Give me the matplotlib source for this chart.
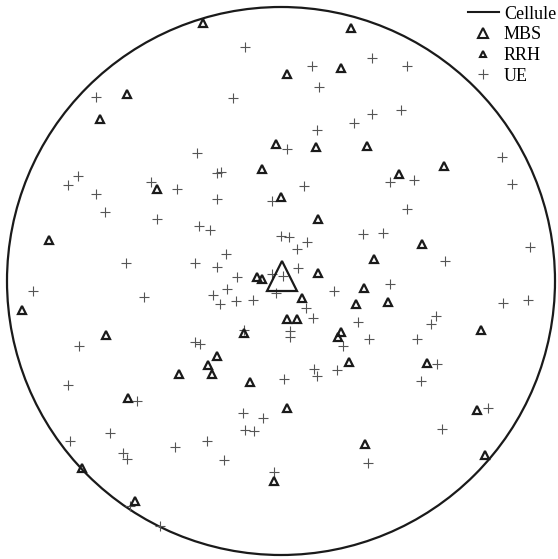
import numpy as np
import matplotlib
matplotlib.use("Agg")
import matplotlib.pyplot as plt
from matplotlib.lines import Line2D
from matplotlib.patches import Circle

plt.rcParams['font.family'] = ['Liberation Serif', 'DejaVu Serif']

# cell layout (metres, cell centre at origin)
cell_radius = 274

mbs_x = [1]
mbs_y = [5]

rrh_x = [-78, 70, 60, 6, -154, -181, -5, 35, 86, -19, 163, 118, -124, 0, 37,
         -232, 141, 93, -24, -19, 37, 83, -259, 21, 75, 107, 6, 16, 200, -175,
         -37, 60, 57, -64, -73, 68, 146, -69, -102, -31, -153, 6, 196, 84, 204,
         -199, -7, -146]
rrh_y = [258, 253, 213, 207, 187, 162, 137, 134, 135, 112, 115, 107, 92, 84, 62,
         41, 37, 22, 4, 2, 8, -7, -29, -17, -23, -21, -38, -38, -49, -54,
         -52, -51, -56, -75, -84, -81, -82, -93, -93, -101, -117, -127, -129, -163, -174,
         -187, -200, -220]

ue_x = [-36, 91, 31, 126, 38, -185, -48, 91, 120, 73, 36, 6, -84, 221, -64,
        -60, -203, -213, -130, -104, 109, 133, 231, -185, -64, -9, 23, -176, -124, 126,
        -82, -71, 0, 8, 82, 102, 26, 16, 249, -55, -155, -86, -64, 164, 17,
        -9, -44, 2, 109, -248, -54, -68, -137, -61, -45, -28, -5, 53, 222, 247,
        25, 32, 77, 155, 150, 9, 9, -37, 88, 136, -202, -86, -81, 62, 156,
        33, 36, 56, 3, 140, -213, -144, 207, -38, -18, 161, -36, -27, -171, -211,
        -74, -106, -158, -154, -57, 87, -7, -151, -121]
ue_y = [234, 223, 215, 215, 194, 184, 183, 167, 171, 158, 151, 132, 128, 124, 108,
        109, 105, 96, 99, 92, 99, 101, 97, 87, 82, 80, 95, 69, 62, 72,
        55, 51, 45, 44, 47, 48, 39, 32, 34, 27, 18, 18, 14, 20, 13,
        7, 4, 5, -3, -10, -8, -14, -16, -23, -20, -19, -12, -10, -22, -19,
        -27, -37, -41, -35, -43, -50, -56, -49, -58, -58, -65, -61, -63, -65, -83,
        -88, -95, -89, -98, -100, -104, -120, -127, -132, -137, -148, -149, -150, -152, -160,
        -160, -166, -172, -178, -179, -182, -191, -225, -245]

fig = plt.figure(figsize=(5.58, 5.59), dpi=100)
ax = fig.add_axes([0, 0, 1, 1])
ax.set_xlim(-281, 277)
ax.set_ylim(-278, 281)
ax.axis('off')

cell = Circle((0, 0), cell_radius, fill=False, edgecolor='#1a1a1a', linewidth=1.6)
ax.add_patch(cell)

ax.plot(ue_x, ue_y, '+', color='#555555', markersize=7.8, markeredgewidth=0.8)
ax.plot(rrh_x, rrh_y, '^', markerfacecolor='none', markeredgecolor='#1a1a1a',
        markersize=5.2, markeredgewidth=1.6)
ax.plot(mbs_x, mbs_y, '^', markerfacecolor='none', markeredgecolor='#1a1a1a',
        markersize=21, markeredgewidth=1.6)

# legend markers are drawn smaller than in the plot
handles = [
    Line2D([], [], color='#1a1a1a', linewidth=1.5),
    Line2D([], [], linestyle='none', marker='^', markerfacecolor='none',
           markeredgecolor='#1a1a1a', markersize=6.5, markeredgewidth=1.5),
    Line2D([], [], linestyle='none', marker='^', markerfacecolor='none',
           markeredgecolor='#1a1a1a', markersize=4.5, markeredgewidth=1.5),
    Line2D([], [], linestyle='none', marker='+', color='#555555',
           markersize=6.5, markeredgewidth=0.8),
]
ax.legend(handles, ['Cellule', 'MBS', 'RRH', 'UE'], loc='upper right',
          bbox_to_anchor=(1.0, 0.993), bbox_transform=fig.transFigure,
          frameon=False, fontsize=13, handlelength=1.7, handletextpad=0.3,
          labelspacing=0.2, borderpad=0.1, borderaxespad=0)

fig.savefig('out.png', dpi=100)
